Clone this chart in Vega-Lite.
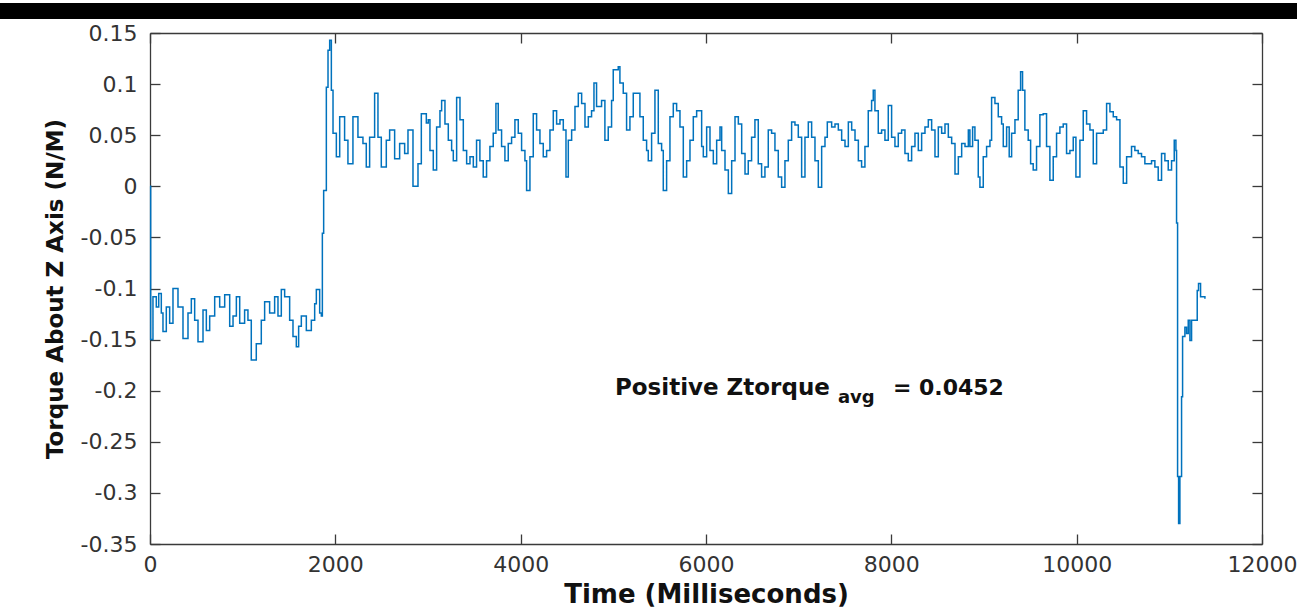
{
  "$schema": "https://vega.github.io/schema/vega-lite/v6.json",
  "width": 1112,
  "height": 511,
  "autosize": {"type": "none"},
  "padding": {"left": 150, "top": 33, "right": 35, "bottom": 66},
  "background": "white",
  "config": {
    "view": {"stroke": null},
    "font": "DejaVu Sans",
    "axis": {
      "grid": false,
      "domainColor": "#3a3a3a",
      "domainWidth": 1.3,
      "tickColor": "#3a3a3a",
      "tickWidth": 1.3,
      "tickSize": -10,
      "labelColor": "#333333",
      "labelFont": "DejaVu Sans",
      "labelFontSize": 22,
      "labelFlush": false,
      "labelOverlap": false,
      "titleFont": "DejaVu Sans",
      "titleFontWeight": "bold",
      "titleColor": "#111111"
    }
  },
  "data": {
    "values": [
      {"t": 0, "v": 0.0}, {"t": 7, "v": -0.150}, {"t": 32, "v": -0.108}, {"t": 68, "v": -0.118}, {"t": 94, "v": -0.105}, {"t": 122, "v": -0.124}, {"t": 140, "v": -0.142}, {"t": 176, "v": -0.118}, {"t": 212, "v": -0.134}, {"t": 248, "v": -0.100}, {"t": 302, "v": -0.118}, {"t": 356, "v": -0.149}, {"t": 410, "v": -0.124}, {"t": 446, "v": -0.110}, {"t": 482, "v": -0.131}, {"t": 518, "v": -0.152}, {"t": 572, "v": -0.121}, {"t": 608, "v": -0.141}, {"t": 644, "v": -0.127}, {"t": 698, "v": -0.108}, {"t": 752, "v": -0.118}, {"t": 806, "v": -0.106}, {"t": 860, "v": -0.137}, {"t": 896, "v": -0.127}, {"t": 932, "v": -0.108}, {"t": 968, "v": -0.134}, {"t": 1021, "v": -0.121}, {"t": 1057, "v": -0.131}, {"t": 1093, "v": -0.170}, {"t": 1147, "v": -0.154}, {"t": 1201, "v": -0.131}, {"t": 1237, "v": -0.113}, {"t": 1291, "v": -0.124}, {"t": 1345, "v": -0.108}, {"t": 1381, "v": -0.127}, {"t": 1417, "v": -0.101}, {"t": 1453, "v": -0.108}, {"t": 1507, "v": -0.131}, {"t": 1543, "v": -0.147}, {"t": 1579, "v": -0.157}, {"t": 1604, "v": -0.137}, {"t": 1633, "v": -0.127}, {"t": 1687, "v": -0.141}, {"t": 1741, "v": -0.131}, {"t": 1777, "v": -0.115}, {"t": 1795, "v": -0.101}, {"t": 1831, "v": -0.124}, {"t": 1849, "v": -0.127}, {"t": 1860, "v": -0.046}, {"t": 1874, "v": -0.004}, {"t": 1903, "v": 0.097}, {"t": 1921, "v": 0.133}, {"t": 1939, "v": 0.143}, {"t": 1957, "v": 0.094}, {"t": 1975, "v": 0.052}, {"t": 2011, "v": 0.029}, {"t": 2047, "v": 0.068}, {"t": 2100, "v": 0.045}, {"t": 2136, "v": 0.022}, {"t": 2190, "v": 0.068}, {"t": 2244, "v": 0.048}, {"t": 2298, "v": 0.042}, {"t": 2334, "v": 0.019}, {"t": 2370, "v": 0.048}, {"t": 2424, "v": 0.091}, {"t": 2460, "v": 0.048}, {"t": 2496, "v": 0.019}, {"t": 2550, "v": 0.045}, {"t": 2586, "v": 0.055}, {"t": 2640, "v": 0.027}, {"t": 2694, "v": 0.042}, {"t": 2748, "v": 0.032}, {"t": 2784, "v": 0.055}, {"t": 2838, "v": 0.000}, {"t": 2892, "v": 0.022}, {"t": 2928, "v": 0.071}, {"t": 2982, "v": 0.062},
      {"t": 3003, "v": 0.065}, {"t": 3021, "v": 0.035}, {"t": 3057, "v": 0.016}, {"t": 3093, "v": 0.058}, {"t": 3129, "v": 0.074}, {"t": 3147, "v": 0.084}, {"t": 3183, "v": 0.061}, {"t": 3219, "v": 0.045}, {"t": 3255, "v": 0.035}, {"t": 3273, "v": 0.025}, {"t": 3309, "v": 0.087}, {"t": 3345, "v": 0.065}, {"t": 3381, "v": 0.035}, {"t": 3417, "v": 0.022}, {"t": 3453, "v": 0.029}, {"t": 3489, "v": 0.019}, {"t": 3524, "v": 0.045}, {"t": 3560, "v": 0.025}, {"t": 3596, "v": 0.009}, {"t": 3632, "v": 0.025}, {"t": 3668, "v": 0.039}, {"t": 3704, "v": 0.052}, {"t": 3733, "v": 0.081}, {"t": 3758, "v": 0.055}, {"t": 3794, "v": 0.039}, {"t": 3830, "v": 0.025}, {"t": 3866, "v": 0.042}, {"t": 3902, "v": 0.048}, {"t": 3938, "v": 0.065}, {"t": 3974, "v": 0.052}, {"t": 4010, "v": 0.035}, {"t": 4046, "v": 0.025}, {"t": 4064, "v": -0.004}, {"t": 4100, "v": 0.029}, {"t": 4136, "v": 0.071}, {"t": 4172, "v": 0.055}, {"t": 4208, "v": 0.042}, {"t": 4244, "v": 0.029}, {"t": 4280, "v": 0.035}, {"t": 4316, "v": 0.055}, {"t": 4352, "v": 0.074}, {"t": 4388, "v": 0.061}, {"t": 4424, "v": 0.065}, {"t": 4460, "v": 0.055}, {"t": 4489, "v": 0.009}, {"t": 4514, "v": 0.045}, {"t": 4550, "v": 0.055}, {"t": 4586, "v": 0.078}, {"t": 4622, "v": 0.091}, {"t": 4658, "v": 0.081}, {"t": 4694, "v": 0.058}, {"t": 4730, "v": 0.068}, {"t": 4765, "v": 0.074}, {"t": 4791, "v": 0.101}, {"t": 4819, "v": 0.078}, {"t": 4873, "v": 0.084}, {"t": 4909, "v": 0.045}, {"t": 4945, "v": 0.058}, {"t": 4981, "v": 0.084}, {"t": 4999, "v": 0.114}, {"t": 5035, "v": 0.114}, {"t": 5053, "v": 0.117}, {"t": 5071, "v": 0.101}, {"t": 5107, "v": 0.091}, {"t": 5143, "v": 0.055}, {"t": 5179, "v": 0.068}, {"t": 5215, "v": 0.091}, {"t": 5251, "v": 0.091}, {"t": 5287, "v": 0.068}, {"t": 5323, "v": 0.045}, {"t": 5359, "v": 0.035}, {"t": 5377, "v": 0.025}, {"t": 5413, "v": 0.052}, {"t": 5449, "v": 0.094}, {"t": 5485, "v": 0.042}, {"t": 5521, "v": 0.035}, {"t": 5539, "v": -0.004}, {"t": 5575, "v": 0.025}, {"t": 5611, "v": 0.068}, {"t": 5647, "v": 0.081}, {"t": 5683, "v": 0.074}, {"t": 5719, "v": 0.058}, {"t": 5755, "v": 0.009}, {"t": 5791, "v": 0.025}, {"t": 5827, "v": 0.045}, {"t": 5863, "v": 0.068}, {"t": 5899, "v": 0.074},
      {"t": 5953, "v": 0.039}, {"t": 5971, "v": 0.029}, {"t": 6007, "v": 0.058}, {"t": 6043, "v": 0.035}, {"t": 6079, "v": 0.022}, {"t": 6115, "v": 0.045}, {"t": 6151, "v": 0.058}, {"t": 6169, "v": 0.035}, {"t": 6205, "v": 0.016}, {"t": 6241, "v": -0.007}, {"t": 6277, "v": 0.025}, {"t": 6313, "v": 0.068}, {"t": 6349, "v": 0.061}, {"t": 6385, "v": 0.032}, {"t": 6421, "v": 0.012}, {"t": 6456, "v": 0.025}, {"t": 6492, "v": 0.048}, {"t": 6528, "v": 0.065}, {"t": 6564, "v": 0.022}, {"t": 6600, "v": 0.009}, {"t": 6636, "v": 0.019}, {"t": 6672, "v": 0.055}, {"t": 6708, "v": 0.052}, {"t": 6744, "v": 0.035}, {"t": 6780, "v": 0.009}, {"t": 6816, "v": -0.001}, {"t": 6852, "v": 0.025}, {"t": 6888, "v": 0.045}, {"t": 6924, "v": 0.063}, {"t": 6960, "v": 0.060}, {"t": 6996, "v": 0.048}, {"t": 7032, "v": 0.009}, {"t": 7068, "v": 0.048}, {"t": 7104, "v": 0.063}, {"t": 7140, "v": 0.048}, {"t": 7176, "v": 0.025}, {"t": 7212, "v": -0.001}, {"t": 7248, "v": 0.039}, {"t": 7284, "v": 0.048}, {"t": 7309, "v": 0.063}, {"t": 7356, "v": 0.058}, {"t": 7392, "v": 0.061}, {"t": 7428, "v": 0.055}, {"t": 7464, "v": 0.045}, {"t": 7500, "v": 0.039}, {"t": 7536, "v": 0.063}, {"t": 7572, "v": 0.055}, {"t": 7608, "v": 0.045}, {"t": 7644, "v": 0.025}, {"t": 7679, "v": 0.019}, {"t": 7715, "v": 0.039}, {"t": 7751, "v": 0.074}, {"t": 7787, "v": 0.084}, {"t": 7805, "v": 0.094}, {"t": 7823, "v": 0.074}, {"t": 7859, "v": 0.052}, {"t": 7895, "v": 0.055}, {"t": 7931, "v": 0.045}, {"t": 7967, "v": 0.079}, {"t": 8003, "v": 0.048}, {"t": 8039, "v": 0.039}, {"t": 8075, "v": 0.052}, {"t": 8111, "v": 0.055}, {"t": 8147, "v": 0.032}, {"t": 8183, "v": 0.025}, {"t": 8219, "v": 0.039}, {"t": 8255, "v": 0.052}, {"t": 8291, "v": 0.035}, {"t": 8327, "v": 0.052}, {"t": 8363, "v": 0.058}, {"t": 8399, "v": 0.065}, {"t": 8435, "v": 0.055}, {"t": 8471, "v": 0.029}, {"t": 8507, "v": 0.058}, {"t": 8543, "v": 0.052}, {"t": 8579, "v": 0.061}, {"t": 8615, "v": 0.048}, {"t": 8651, "v": 0.042}, {"t": 8687, "v": 0.012}, {"t": 8723, "v": 0.029}, {"t": 8759, "v": 0.042}, {"t": 8795, "v": 0.039}, {"t": 8831, "v": 0.055},
      {"t": 8848, "v": 0.039}, {"t": 8877, "v": 0.058}, {"t": 8902, "v": 0.045}, {"t": 8938, "v": 0.009}, {"t": 8956, "v": -0.001}, {"t": 8992, "v": 0.029}, {"t": 9028, "v": 0.039}, {"t": 9064, "v": 0.045}, {"t": 9082, "v": 0.087}, {"t": 9118, "v": 0.081}, {"t": 9154, "v": 0.068}, {"t": 9190, "v": 0.061}, {"t": 9208, "v": 0.039}, {"t": 9244, "v": 0.058}, {"t": 9272, "v": 0.029}, {"t": 9298, "v": 0.052}, {"t": 9334, "v": 0.065}, {"t": 9369, "v": 0.094}, {"t": 9395, "v": 0.112}, {"t": 9416, "v": 0.094}, {"t": 9441, "v": 0.055}, {"t": 9477, "v": 0.045}, {"t": 9503, "v": 0.022}, {"t": 9531, "v": 0.016}, {"t": 9567, "v": 0.039}, {"t": 9603, "v": 0.070}, {"t": 9639, "v": 0.071}, {"t": 9675, "v": 0.039}, {"t": 9711, "v": 0.006}, {"t": 9747, "v": 0.029}, {"t": 9783, "v": 0.052}, {"t": 9819, "v": 0.058}, {"t": 9855, "v": 0.061}, {"t": 9891, "v": 0.032}, {"t": 9927, "v": 0.035}, {"t": 9963, "v": 0.048}, {"t": 9992, "v": 0.009}, {"t": 10035, "v": 0.045}, {"t": 10071, "v": 0.074}, {"t": 10107, "v": 0.061}, {"t": 10143, "v": 0.055}, {"t": 10179, "v": 0.022}, {"t": 10215, "v": 0.052}, {"t": 10251, "v": 0.052}, {"t": 10287, "v": 0.055}, {"t": 10323, "v": 0.081}, {"t": 10359, "v": 0.073}, {"t": 10395, "v": 0.068}, {"t": 10431, "v": 0.065}, {"t": 10467, "v": 0.019}, {"t": 10503, "v": 0.003}, {"t": 10539, "v": 0.029}, {"t": 10592, "v": 0.039}, {"t": 10628, "v": 0.035}, {"t": 10664, "v": 0.032}, {"t": 10700, "v": 0.029}, {"t": 10736, "v": 0.022}, {"t": 10772, "v": 0.022}, {"t": 10808, "v": 0.025}, {"t": 10844, "v": 0.019}, {"t": 10880, "v": 0.006}, {"t": 10916, "v": 0.032}, {"t": 10952, "v": 0.025}, {"t": 10988, "v": 0.016}, {"t": 11024, "v": 0.025}, {"t": 11053, "v": 0.045}, {"t": 11071, "v": 0.035}, {"t": 11078, "v": -0.036}, {"t": 11089, "v": -0.284}, {"t": 11100, "v": -0.330}, {"t": 11114, "v": -0.284}, {"t": 11132, "v": -0.206}, {"t": 11143, "v": -0.147}, {"t": 11168, "v": -0.138}, {"t": 11186, "v": -0.144}, {"t": 11204, "v": -0.131}, {"t": 11222, "v": -0.151}, {"t": 11240, "v": -0.131}, {"t": 11276, "v": -0.131}, {"t": 11301, "v": -0.102}, {"t": 11315, "v": -0.095}, {"t": 11337, "v": -0.108}, {"t": 11384, "v": -0.110}
    ]
  },
  "layer": [
    {
      "mark": {"type": "line", "interpolate": "step-after", "color": "#0072BD", "strokeWidth": 1.5},
      "encoding": {
        "x": {
          "field": "t", "type": "quantitative",
          "scale": {"domain": [0, 12000], "nice": false, "zero": false},
          "axis": {"orient": "bottom", "title": "Time (Milliseconds)", "values": [0, 2000, 4000, 6000, 8000, 10000, 12000], "format": "d", "labelPadding": 20, "titleFontSize": 26, "titlePadding": 6}
        },
        "y": {
          "field": "v", "type": "quantitative",
          "scale": {"domain": [-0.35, 0.15], "nice": false, "zero": false},
          "axis": {"orient": "left", "title": "Torque About Z Axis (N/M)", "values": [-0.35, -0.3, -0.25, -0.2, -0.15, -0.1, -0.05, 0, 0.05, 0.1, 0.15], "labelExpr": "datum.value == 0 ? '0' : toString(round(datum.value * 100) / 100)", "labelPadding": 23, "titleFontSize": 23, "titlePadding": 13}
        }
      }
    },
    {
      "data": {"values": [{}]},
      "mark": {"type": "rect", "color": "black", "clip": false},
      "encoding": {
        "x": {
          "datum": -1700, "type": "quantitative",
          "scale": {"domain": [0, 12000], "nice": false, "zero": false},
          "axis": {"orient": "top", "labels": false, "title": null, "values": [0, 2000, 4000, 6000, 8000, 10000, 12000]}
        },
        "x2": {"datum": 12500},
        "y": {
          "datum": 0.1794, "type": "quantitative",
          "scale": {"domain": [-0.35, 0.15], "nice": false, "zero": false},
          "axis": {"orient": "right", "labels": false, "title": null, "values": [-0.35, -0.3, -0.25, -0.2, -0.15, -0.1, -0.05, 0, 0.05, 0.1, 0.15]}
        },
        "y2": {"datum": 0.1637}
      }
    },
    {
      "data": {"values": [{}]},
      "mark": {"type": "text", "text": "Positive Ztorque", "align": "left", "baseline": "alphabetic", "font": "DejaVu Sans", "fontWeight": "bold", "fontSize": 23, "color": "#111111"},
      "encoding": {
        "x": {"datum": 5017, "type": "quantitative", "scale": {"domain": [0, 12000], "nice": false, "zero": false}, "axis": null},
        "y": {"datum": -0.2042, "type": "quantitative", "scale": {"domain": [-0.35, 0.15], "nice": false, "zero": false}, "axis": null}
      }
    },
    {
      "data": {"values": [{}]},
      "mark": {"type": "text", "text": "avg", "align": "left", "baseline": "alphabetic", "font": "DejaVu Sans", "fontWeight": "bold", "fontSize": 18, "color": "#111111"},
      "encoding": {
        "x": {"datum": 7424, "type": "quantitative", "scale": {"domain": [0, 12000], "nice": false, "zero": false}, "axis": null},
        "y": {"datum": -0.212, "type": "quantitative", "scale": {"domain": [-0.35, 0.15], "nice": false, "zero": false}, "axis": null}
      }
    },
    {
      "data": {"values": [{}]},
      "mark": {"type": "text", "text": "= 0.0452", "align": "left", "baseline": "alphabetic", "font": "DejaVu Sans", "fontWeight": "bold", "fontSize": 22, "color": "#111111"},
      "encoding": {
        "x": {"datum": 8017, "type": "quantitative", "scale": {"domain": [0, 12000], "nice": false, "zero": false}, "axis": null},
        "y": {"datum": -0.2042, "type": "quantitative", "scale": {"domain": [-0.35, 0.15], "nice": false, "zero": false}, "axis": null}
      }
    }
  ],
  "resolve": {"axis": {"x": "independent", "y": "independent"}}
}
